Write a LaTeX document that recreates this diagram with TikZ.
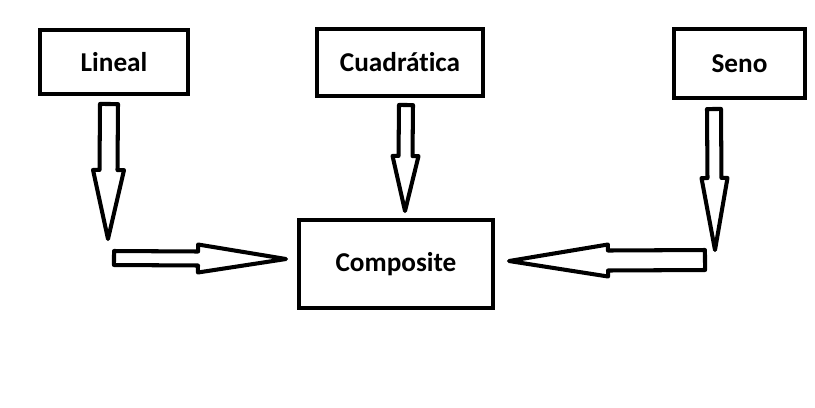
\documentclass[tikz,border=0pt]{standalone}
\usepackage{fontspec}
\setmainfont{Carlito}[Ligatures=NoCommon]
\usepackage{tikz}
\usetikzlibrary{calc}

% block arrow from #1 to #2: shaft half width #3, head half width #4, head length #5
\newcommand{\blockarrow}[5]{%
	\coordinate (ba-base) at ($(#2)!#5!(#1)$);
	\draw[blockarrow]
		($(#1)!#3!90:(#2)$) -- ($(ba-base)!#3!-90:(#1)$)
		-- ($(ba-base)!#4!-90:(#1)$) -- (#2)
		-- ($(ba-base)!#4!90:(#1)$) -- ($(ba-base)!#3!90:(#1)$)
		-- ($(#1)!#3!-90:(#2)$) -- cycle;
}

\begin{document}
\begin{tikzpicture}[
		x=0.02cm, y=-0.02cm,
		box/.style={draw, line width=2.5pt, font=\bfseries\fontsize{15.5}{18}\selectfont},
		blockarrow/.style={draw, line width=2.3pt, line join=round, fill=white}
	]
	\useasboundingbox (0,0) rectangle (815,407);
	
	\node[box, minimum width=2.96cm, minimum height=1.28cm] (lineal)
		at (114,62) {Lineal};
	\node[box, minimum width=3.32cm, minimum height=1.34cm] (cuadratica)
		at (400,62.5) {Cuadrática};
	\node[box, minimum width=2.62cm, minimum height=1.38cm] (seno)
		at (739.5,63.5) {Seno};
	\node[box, minimum width=3.88cm, minimum height=1.76cm] (composite)
		at (396,264) {Composite};
	
	\coordinate (lin-top) at (109,104);
	\coordinate (lin-tip) at (108,239);
	\coordinate (lin-turn) at (114,258);
	\coordinate (lin-end) at (286,259);
	\coordinate (cua-top) at (406,105);
	\coordinate (cua-tip) at (405,211);
	\coordinate (sen-top) at (714,109);
	\coordinate (sen-tip) at (715,250);
	\coordinate (sen-turn) at (705,260);
	\coordinate (sen-end) at (509,261);
	
	\blockarrow{lin-top}{lin-tip}{0.18cm}{0.31cm}{1.38cm}
	\blockarrow{lin-turn}{lin-end}{0.14cm}{0.28cm}{1.76cm}
	\blockarrow{cua-top}{cua-tip}{0.14cm}{0.26cm}{1.1cm}
	\blockarrow{sen-top}{sen-tip}{0.14cm}{0.26cm}{1.44cm}
	\blockarrow{sen-turn}{sen-end}{0.2cm}{0.32cm}{1.98cm}
\end{tikzpicture}
\end{document}
